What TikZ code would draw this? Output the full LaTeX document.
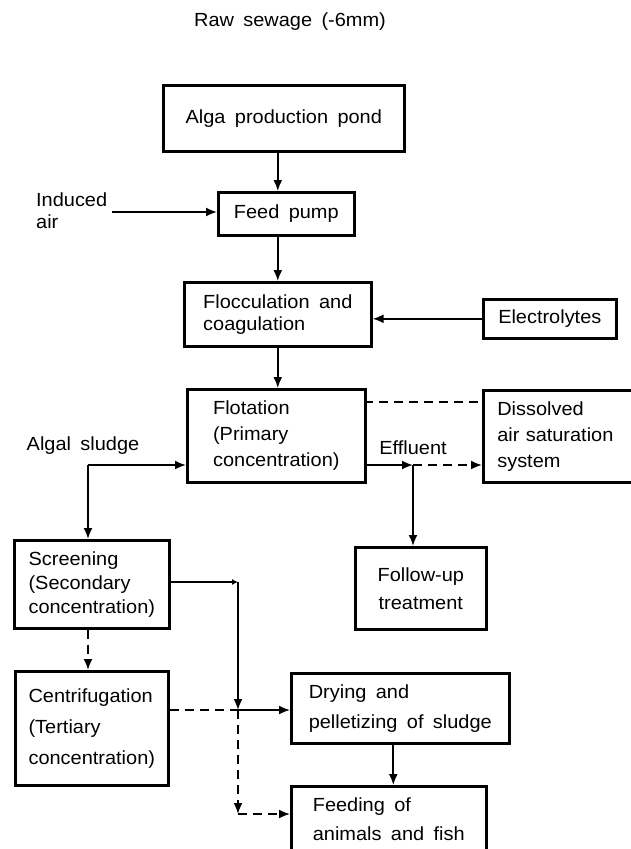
\documentclass[tikz,border=0pt]{standalone}
\usepackage{fontspec}
\setmainfont{Liberation Sans}[FakeStretch=1.05,WordSpace=1.7]
\usetikzlibrary{positioning,arrows.meta}
\newcommand{\lspace}[1]{\fontsize{19}{#1}\selectfont}

\begin{document}
\begin{tikzpicture}[x=1pt,y=-1pt,
		procbox/.style={rectangle, draw=black, line width=2.6pt, anchor=north west, align=left, inner sep=2pt, font=\lspace{26}},
		tagnode/.style={inner sep=0pt, align=left, font=\lspace{22}},
		flowdash/.style={dash pattern=on 9pt off 6pt},
		>={Latex[length=11pt,width=9pt]},
	]
	\useasboundingbox (0,0) rectangle (631,849);
	\clip (0,0) rectangle (631,849);
	% boxes
	\node[procbox, align=center, minimum width=241pt, minimum height=66pt] (pond) at (162,84) {Alga production pond};
	\node[procbox, align=center, minimum width=136pt, minimum height=43pt] (feedpump) at (217,191) {Feed pump};
	\node[procbox, minimum width=187pt, minimum height=64pt, font=\lspace{22}] (floc) at (183,281) {Flocculation and\\coagulation};
	\node[procbox, align=center, minimum width=133pt, minimum height=39pt] (electrolytes) at (482,298) {Electrolytes};
	\node[procbox, minimum width=178pt, minimum height=93pt] (flotation) at (186,388) {Flotation\\(Primary\\concentration)};
	\node[procbox, text width=150pt, inner xsep=14pt, minimum height=92pt] (dissolved) at (482,389) {Dissolved\\air saturation\\system};
	\node[procbox, minimum width=155pt, minimum height=88pt, font=\lspace{24}] (screening) at (13,539) {Screening\\(Secondary\\concentration)};
	\node[procbox, align=center, minimum width=131pt, minimum height=82pt, font=\lspace{28}] (followup) at (354,546) {Follow-up\\treatment};
	\node[procbox, minimum width=153pt, minimum height=114pt, font=\lspace{31}] (centrifugation) at (14,670) {Centrifugation\\(Tertiary\\concentration)};
	\node[procbox, minimum width=218pt, minimum height=70pt, font=\lspace{30}] (drying) at (290,672) {Drying and\\pelletizing of sludge};
	\node[procbox, minimum width=195pt, minimum height=66pt, font=\lspace{29}] (feeding) at (290,785) {Feeding of\\animals and fish};
	% free labels
	\node[tagnode] (rawsewage) at (290,22) {Raw sewage (-6mm)};
	\node[tagnode, anchor=west] (induced) at (36,211) {Induced\\air};
	\node[tagnode] (algal) at (83,446) {Algal sludge};
	\node[tagnode] (effluent) at (413,448) {Effluent};
	% junctions
	\coordinate (airin) at (112,212);
	\coordinate (satin) at (364,402);
	\coordinate (effjoin) at (413,465);
	\coordinate (sludgecorner) at (88,465);
	\coordinate (scrturn) at (238,582);
	\coordinate (dryjoin) at (238,710);
	\coordinate (feedturn) at (238,814);
	\begin{scope}[line width=1.8pt]
	\draw[->] (floc.north |- pond.south) -- (floc.north |- feedpump.north);
	\draw[->] (floc.north |- feedpump.south) -- (floc.north);
	\draw[->] (floc.south) -- (floc.south |- flotation.north);
	\draw[->] (airin) -- (airin -| feedpump.west);
	\draw[->] (electrolytes.west) -- (electrolytes.west -| floc.east);
	\draw[flowdash] (satin) -- (satin -| dissolved.west);
	\draw[->] (effjoin -| flotation.east) -- (effjoin);
	\draw[flowdash, ->] (effjoin) -- (effjoin -| dissolved.west);
	\draw[->] (effjoin) -- (effjoin |- followup.north);
	\draw[->] (sludgecorner) -- (sludgecorner -| flotation.west);
	\draw[->] (sludgecorner) -- (sludgecorner |- screening.north);
	\draw[flowdash, ->] (sludgecorner |- screening.south) -- (sludgecorner |- centrifugation.north);
	\draw[-{Latex[length=6pt,width=6pt]}] (scrturn -| screening.east) -- (scrturn);
	\draw[->] (scrturn) -- (dryjoin);
	\draw[->] (dryjoin) -- (dryjoin -| drying.west);
	\draw[flowdash] (dryjoin -| centrifugation.east) -- (dryjoin);
	\draw[flowdash, ->] (dryjoin) -- (feedturn);
	\draw[flowdash, ->] (feedturn) -- (feedturn -| feeding.west);
	\draw[->] ([xshift=-7pt]drying.south) -- ([xshift=-7pt]drying.south |- feeding.north);
	\end{scope}
\end{tikzpicture}
\end{document}
